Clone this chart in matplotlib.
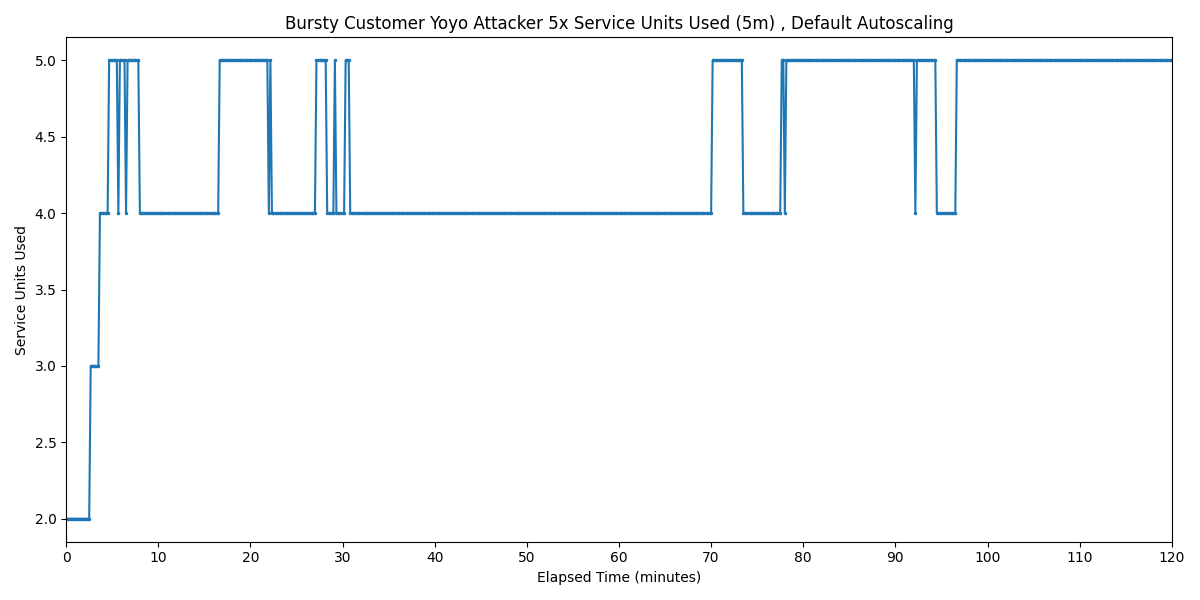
import matplotlib
matplotlib.use("Agg")
import matplotlib.pyplot as plt
import numpy as np

# step data: sample every 10 s, value changes at these times
sample_s = 10
end_s = 7200
change_s = [0, 160, 220, 280, 340, 350, 390, 400, 480, 1000, 1320, 1330, 1340,
            1630, 1700, 1750, 1760, 1820, 1850, 4210, 4410, 4660, 4680, 4690,
            5530, 5540, 5670, 5800]
units = [2, 3, 4, 5, 4, 5, 4, 5, 4, 5, 4, 5, 4,
         5, 4, 5, 4, 5, 4, 5, 4, 5, 4, 5,
         4, 5, 4, 5]

t_s = np.arange(0, end_s + 1, sample_s)
idx = np.searchsorted(change_s, t_s, side="right") - 1
used = np.array(units)[idx]
t_min = t_s / 60

fig, ax = plt.subplots(figsize=(12, 6), dpi=100)
ax.plot(t_min, used, color="C0", marker="o", markersize=1.5, linewidth=1.5)
ax.set_title("Bursty Customer Yoyo Attacker 5x Service Units Used (5m) , Default Autoscaling")
ax.set_xlabel("Elapsed Time (minutes)")
ax.set_ylabel("Service Units Used")
ax.set_xlim(0, 120)
ax.set_xticks(np.arange(0, 121, 10))
plt.tight_layout()
plt.savefig("out.png")
